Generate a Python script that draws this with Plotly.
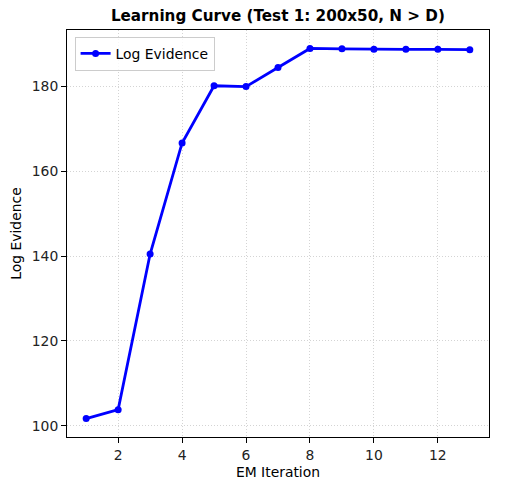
import plotly.graph_objects as go

iterations = list(range(1, 14))
log_evidence = [101.7, 103.8, 140.5, 166.7, 180.2, 180.0, 184.5,
                189.0, 188.9, 188.8, 188.8, 188.8, 188.7]

fig = go.Figure()
fig.add_trace(go.Scatter(x=iterations, y=log_evidence, mode="lines+markers",
                         name="Log Evidence",
                         line=dict(color="blue", width=2.8),
                         marker=dict(color="blue", size=7)))

axis_style = dict(showline=True, linecolor="black", linewidth=1, mirror=True,
                  ticks="outside", ticklen=5, tickcolor="black",
                  showgrid=True, gridcolor="rgba(176,176,176,0.55)", griddash="1px,2px",
                  gridwidth=1, zeroline=False, automargin=False,
                  tickfont=dict(size=13.9, color="#222"))

# page body has an 8px margin, so the margins are offset by that
fig.update_layout(
    width=521, height=490,
    margin=dict(l=59, r=40, t=22, b=61),
    paper_bgcolor="white", plot_bgcolor="white",
    font=dict(family="DejaVu Sans", color="black"),
    title=dict(text="<b>Learning Curve (Test 1: 200x50, N > D)</b>",
               x=0.518, xanchor="center", y=0.984, yanchor="middle",
               font=dict(size=15.2)),
    showlegend=True,
    legend=dict(x=0.018, y=0.983, xanchor="left", yanchor="top",
                bordercolor="#cccccc", borderwidth=1,
                bgcolor="rgba(255,255,255,0.8)",
                font=dict(size=13.9), itemwidth=30,
                tracegroupgap=0),
    xaxis=dict(range=[0.4, 13.6], tickvals=[2, 4, 6, 8, 10, 12],
               title=dict(text="EM Iteration", font=dict(size=13.9), standoff=5),
               **axis_style),
    yaxis=dict(range=[97.35, 193.35], tickvals=[100, 120, 140, 160, 180],
               title=dict(text="Log Evidence", font=dict(size=13.9), standoff=7),
               **axis_style),
)

fig.write_html("out.html")
